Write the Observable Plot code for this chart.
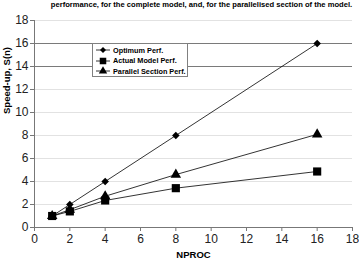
<!DOCTYPE html>
<html><head>
<meta charset="utf-8">
<script src="https://cdn.jsdelivr.net/npm/d3@7"></script>
<script src="https://cdn.jsdelivr.net/npm/@observablehq/plot@0.6"></script>
<style>
body{margin:0;background:#fff;font-family:"Liberation Sans",Arial,sans-serif}
#wrap{position:relative;width:359px;height:269px;overflow:hidden}
#legend{position:absolute;left:92px;top:43px;width:94px;height:32px;border:1px solid #808080;background:#fff;font-weight:bold;font-size:7.3px;color:#000;overflow:hidden}
#legend .row{position:absolute;left:0;height:10px;display:flex;align-items:center;white-space:nowrap}
#legend svg{display:block;margin-left:2px;margin-right:2px;flex:none}
#title{position:absolute;left:0;width:359px;top:0px;text-align:center;font-weight:bold;font-size:7.6px;padding-left:44px;box-sizing:border-box;white-space:nowrap;line-height:9px}
</style>
</head><body><div id="wrap"></div>
<script>
const nproc = [1, 2, 4, 8, 16];
const optimum = [1, 2, 4, 8, 16];
const actual = [1, 1.4, 2.35, 3.42, 4.87];
const parallel = [1, 1.55, 2.72, 4.6, 8.1];
const seriesNames = ["Optimum Perf.", "Actual Model Perf.", "Parallel Section Perf."];
const seriesSymbols = ["diamond2", "square", "triangle"];
const xTicks = [0, 2, 4, 6, 8, 10, 12, 14, 16, 18];
const yTicks = [0, 2, 4, 6, 8, 10, 12, 14, 16, 18];
const lightGrid = [2, 4, 6, 8, 10, 12, 18];
const darkGrid = [14, 16];
const titleText = "performance, for the complete model, and, for the parallelised section of the model.";
const xLabel = "NPROC";
const yLabel = "Speed-up, S(n)";

const seriesValues = [optimum, actual, parallel];
const rows = [];
seriesValues.forEach((vals, si) => nproc.forEach((n, i) => rows.push({series: seriesNames[si], n, v: vals[i]})));

const symR = {"Optimum Perf.": 3.4, "Actual Model Perf.": 4.6, "Parallel Section Perf.": 3.9};

const chart = Plot.plot({
  width: 359, height: 269,
  marginLeft: 34, marginRight: 7, marginTop: 20, marginBottom: 42,
  style: {fontFamily: "Liberation Sans, Arial, sans-serif", fontSize: "12px", color: "#000", background: "#fff"},
  x: {domain: [0, 18], ticks: xTicks, label: null},
  y: {domain: [0, 18], ticks: yTicks, label: null},
  symbol: {domain: seriesNames, range: seriesSymbols},
  marks: [
    Plot.ruleY(lightGrid, {stroke: "#e2e2e2", strokeWidth: 1}),
    Plot.ruleY(darkGrid, {stroke: "#7a7a7a", strokeWidth: 1}),
    Plot.axisX({ticks: xTicks, tickSize: 4, tickPadding: 3, stroke: "#777", fontSize: 12, fill: "#222"}),
    Plot.axisY({ticks: yTicks, tickSize: 4, tickPadding: 2, stroke: "#777", fontSize: 12, fill: "#222"}),
    Plot.ruleX([0], {stroke: "#777"}),
    Plot.ruleY([0], {stroke: "#777"}),
    Plot.line(rows, {x: "n", y: "v", z: "series", stroke: "#000", strokeWidth: 0.8}),
    ...seriesNames.map(s => Plot.dot(rows.filter(d => d.series === s), {x: "n", y: "v", symbol: "series", fill: "#000", stroke: "none", r: symR[s]})),
    Plot.text([xLabel], {frameAnchor: "bottom", dy: 30, fontWeight: "bold", fontSize: 9.5, fill: "#000"}),
    Plot.text([yLabel], {frameAnchor: "left", dx: -28, dy: -10, rotate: -90, fontWeight: "bold", fontSize: 9.5, fill: "#000"})
  ]
});
const wrap = document.getElementById("wrap");
wrap.appendChild(chart);

const t = document.createElement("div");
t.id = "title"; t.textContent = titleText;
wrap.appendChild(t);

const lg = document.createElement("div");
lg.id = "legend";
const symMap = {diamond2: d3.symbolDiamond2, square: d3.symbolSquare, triangle: d3.symbolTriangle};
seriesNames.forEach((name, i) => {
  const row = document.createElement("div");
  row.className = "row";
  row.style.top = (1 + i * 10.5) + "px";
  const r = symR[name] * 0.8;
  const path = d3.symbol(symMap[seriesSymbols[i]], Math.PI * r * r)();
  row.innerHTML = `<svg width="16" height="10"><line x1="1" x2="15" y1="5" y2="5" stroke="#000" stroke-width="0.8"/><path transform="translate(8,5)" d="${path}" fill="#000"/></svg><span>${name}</span>`;
  lg.appendChild(row);
});
wrap.appendChild(lg);
</script>
</body></html>
